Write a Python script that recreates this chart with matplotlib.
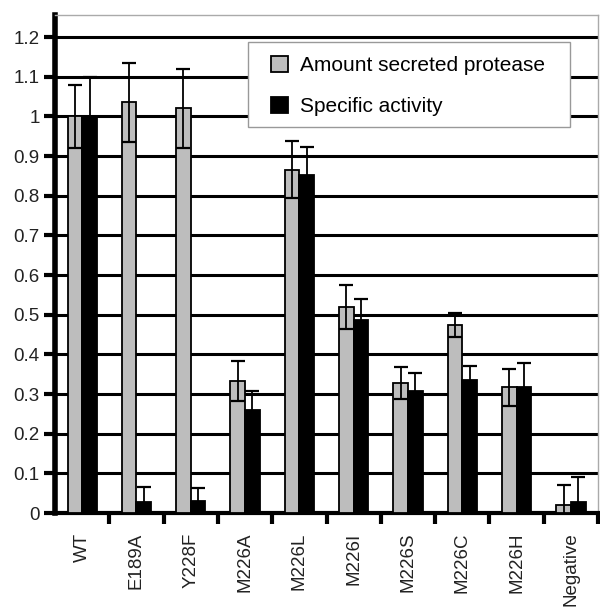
import matplotlib.pyplot as plt
import numpy as np
from matplotlib.patches import Rectangle

labels = ['WT', 'E189A', 'Y228F', 'M226A', 'M226L', 'M226I', 'M226S', 'M226C', 'M226H', 'Negative']
amount = [1.0, 1.035, 1.02, 0.333, 0.866, 0.52, 0.328, 0.475, 0.317, 0.02]
amount_err = [0.08, 0.1, 0.1, 0.05, 0.072, 0.055, 0.04, 0.03, 0.046, 0.05]
activity = [1.0, 0.027, 0.03, 0.26, 0.853, 0.488, 0.308, 0.335, 0.318, 0.027]
activity_err = [0.1, 0.04, 0.033, 0.048, 0.07, 0.052, 0.046, 0.035, 0.06, 0.065]
yticks = [0, 0.1, 0.2, 0.3, 0.4, 0.5, 0.6, 0.7, 0.8, 0.9, 1, 1.1, 1.2]
ytick_labels = ['0', '0.1', '0.2', '0.3', '0.4', '0.5', '0.6', '0.7', '0.8', '0.9', '1', '1.1', '1.2']

plt.rcParams['font.family'] = ['Liberation Sans', 'DejaVu Sans']

fig = plt.figure(figsize=(6, 6.08), dpi=100)
ax = fig.add_axes([0.0917, 0.156, 0.905, 0.819])

x = np.arange(len(labels))
w = 0.27
ax.bar(x - w / 2, amount, w, color='#bdbdbd', edgecolor='black', linewidth=1.3, zorder=3,
       yerr=amount_err, error_kw=dict(ecolor='black', elinewidth=1.3, capsize=5, capthick=1.6, zorder=4),
       label='Amount secreted protease')
ax.bar(x + w / 2, activity, w, color='black', edgecolor='black', linewidth=1.3, zorder=3,
       yerr=activity_err, error_kw=dict(ecolor='black', elinewidth=1.3, capsize=5, capthick=1.6, zorder=4),
       label='Specific activity')

ax.set_xlim(-0.5, len(labels) - 0.5)
ax.set_ylim(0, 1.255)
ax.set_yticks(yticks)
ax.set_yticklabels(ytick_labels, fontsize=13.5, color='#222222')
for yv in yticks[1:]:
    ax.axhline(yv, color='black', lw=2.2, zorder=1)

ax.set_xticks(x)
ax.set_xticklabels(labels, rotation=90, fontsize=13.5, color='#222222')
ax.set_xticks(np.arange(len(labels)) + 0.5, minor=True)
ax.tick_params(axis='x', which='major', length=0, pad=14)
ax.tick_params(axis='x', which='minor', length=8, width=3, direction='out')
ax.tick_params(axis='y', length=8, width=3, direction='out', pad=3)

ax.spines['left'].set_linewidth(4)
ax.spines['bottom'].set_linewidth(3)
ax.spines['top'].set_color('#aaaaaa')
ax.spines['right'].set_color('#aaaaaa')
ax.spines['top'].set_linewidth(1)
ax.spines['right'].set_linewidth(1)

# legend box drawn separately
box = Rectangle((0.355, 0.775), 0.593, 0.171, transform=ax.transAxes, facecolor='white',
                edgecolor='#999999', linewidth=1, zorder=5)
ax.add_patch(box)
leg = ax.legend(loc='upper left', bbox_to_anchor=(0.398, 0.918), fontsize=15, frameon=False,
                handlelength=0.8, handleheight=0.8, borderpad=0, borderaxespad=0,
                labelspacing=1.05, handletextpad=0.6)
leg.set_zorder(6)

fig.savefig('out.png', dpi=100)
